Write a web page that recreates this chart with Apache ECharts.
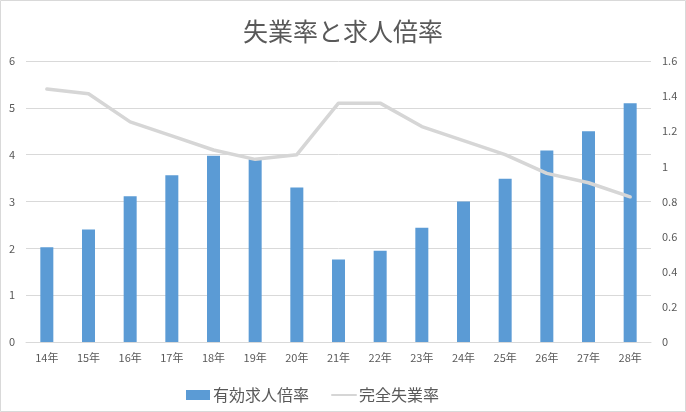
<!DOCTYPE html>
<html>
<head>
<meta charset="utf-8">
<script src="https://cdn.jsdelivr.net/npm/echarts@6/dist/echarts.min.js"></script>
<style>
  html, body { margin: 0; padding: 0; background: #fff; }
  #chart { width: 686px; height: 412px; }
</style>
</head>
<body>
<div id="chart"></div>
<script>
// 年度（平成）
var years = ['14年','15年','16年','17年','18年','19年','20年','21年','22年','23年','24年','25年','26年','27年','28年']
// 有効求人倍率（右軸）
var jobRatio = [0.54, 0.64, 0.83, 0.95, 1.06, 1.04, 0.88, 0.47, 0.52, 0.65, 0.80, 0.93, 1.09, 1.20, 1.36]
// 完全失業率（左軸）
var unemployment = [5.4, 5.3, 4.7, 4.4, 4.1, 3.9, 4.0, 5.1, 5.1, 4.6, 4.3, 4.0, 3.6, 3.4, 3.1]

var textColor = '#595959'
var gridColor = '#d9d9d9'
var font = '"Noto Sans CJK JP", "Noto Sans", sans-serif'

var chart = echarts.init(document.getElementById('chart'))
chart.setOption({
  animation: false,
  textStyle: { fontFamily: font, color: textColor },
  graphic: [{
    type: 'rect',
    shape: { x: 0.5, y: 0.5, width: 685, height: 411 },
    style: { fill: 'none', stroke: gridColor, lineWidth: 1 },
    silent: true
  }],
  title: {
    text: '失業率と求人倍率',
    left: 'center',
    top: 14,
    textStyle: { fontFamily: font, fontSize: 25, fontWeight: 'normal', color: textColor }
  },
  legend: {
    left: 181,
    top: 382,
    itemWidth: 24,
    itemHeight: 10,
    itemGap: 22,
    textStyle: { fontFamily: font, fontSize: 16, color: textColor, padding: [0, 0, 0, -2] },
    data: [
      { name: '有効求人倍率', icon: 'rect' },
      { name: '完全失業率', itemStyle: { opacity: 0 }, lineStyle: { width: 2 } }
    ]
  },
  grid: { left: 26, right: 35, top: 61, bottom: 70 },
  xAxis: {
    type: 'category',
    data: years,
    axisLine: { lineStyle: { color: gridColor } },
    axisTick: { show: false },
    axisLabel: { color: textColor, fontSize: 11, margin: 10 }
  },
  yAxis: [{
    type: 'value',
    min: 0, max: 6, interval: 1,
    axisLine: { show: false },
    axisTick: { show: false },
    axisLabel: { color: textColor, fontSize: 11, margin: 11 },
    splitLine: { lineStyle: { color: gridColor } }
  }, {
    type: 'value',
    min: 0, max: 1.6, interval: 0.2,
    axisLine: { show: false },
    axisTick: { show: false },
    axisLabel: { color: textColor, fontSize: 11, margin: 11 },
    splitLine: { show: false }
  }],
  series: [{
    name: '有効求人倍率',
    type: 'bar',
    yAxisIndex: 1,
    barWidth: 13,
    itemStyle: { color: '#5b9bd5' },
    data: jobRatio
  }, {
    name: '完全失業率',
    type: 'line',
    yAxisIndex: 0,
    symbol: 'none',
    lineStyle: { color: '#d6d6d6', width: 3.5, cap: 'round', join: 'round' },
    itemStyle: { color: '#d6d6d6' },
    data: unemployment
  }]
})
</script>
</body>
</html>
